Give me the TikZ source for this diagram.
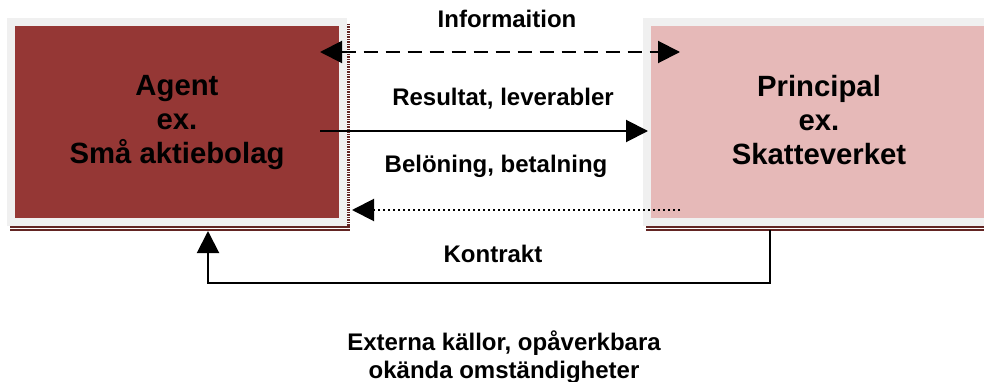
\documentclass[tikz,border=0pt]{standalone}
\usepackage{fontspec}
\setmainfont{Liberation Sans}
\usetikzlibrary{arrows.meta}
\definecolor{agentred}{HTML}{953735}
\definecolor{princpink}{HTML}{E6B9B8}
\definecolor{boxgray}{HTML}{F0F0F0}
\definecolor{shadowred}{HTML}{632523}
\begin{document}
\begin{tikzpicture}[x=1pt,y=-1pt,
  partybox/.style={draw=boxgray, line width=8pt, outer sep=0pt, inner sep=0pt, minimum height=200pt},
  boxtext/.style={anchor=base, align=center, inner sep=0pt, font=\bfseries\fontsize{29.3}{34}\selectfont},
  midtext/.style={anchor=base, align=center, inner sep=0pt, font=\bfseries\fontsize{24}{28}\selectfont},
  conn/.style={line width=2pt, -{Triangle[length=22pt,width=22pt]}},
  shadowline/.style={draw=shadowred, line width=1.6pt}
]
\clip (0,0) rectangle (984,382);
\fill[white] (0,0) rectangle (984,382);
% boxes
\node[partybox, fill=agentred, minimum width=332pt] (agent) at (177,122) {};
\node[partybox, fill=princpink, minimum width=344pt] (principal) at (819,122) {};
% shadow lines
\draw[shadowline] ([shift={(-333,4.8)}]agent.south east) -- ([shift={(7,4.8)}]agent.south east);
\draw[shadowline] ([shift={(-333,7.8)}]agent.south east) -- ([shift={(7,7.8)}]agent.south east);
\draw[shadowred, line width=2.6pt, dash pattern=on 1.5pt off 1pt] ([shift={(5.5,2)}]agent.north east) -- ([shift={(5.5,8.8)}]agent.south east);
\draw[shadowline] ([shift={(-1,4.8)}]principal.south west) -- ([shift={(10,4.8)}]principal.south east);
\draw[shadowline] ([shift={(-1,7.8)}]principal.south west) -- ([shift={(10,7.8)}]principal.south east);
% box texts
\node[boxtext] (agenttext) at (177,164) {Agent\\ex.\\Små aktiebolag};
\node[boxtext] (principaltext) at (819,164.5) {Principal\\ex.\\Skatteverket};
% labels
\node[midtext] (info) at (507,28) {Informaition};
\node[midtext] (result) at (503,106) {Resultat, leverabler};
\node[midtext] (reward) at (496,172) {Belöning, betalning};
\node[midtext] (contract) at (493,262) {Kontrakt};
\node[midtext] (external) at (504,378) {Externa källor, opåverkbara\\okända omständigheter};
% connectors
\draw[conn, {Triangle[length=22pt,width=22pt]}-{Triangle[length=22pt,width=22pt]}, dash pattern=on 14pt off 8pt]
  ([shift={(-23,30)}]agent.north east) -- ([shift={(33,30)}]principal.north west);
\draw[conn] ([shift={(-23,109)}]agent.north east) -- ([shift={(1,109)}]principal.north west);
\draw[conn, dash pattern=on 2pt off 3pt] ([shift={(33,188)}]principal.north west) -- ([shift={(9,188)}]agent.north east);
\draw[conn] ([shift={(-49,8)}]principal.south) -- ++(0,53) -| ([shift={(31,9)}]agent.south);
\end{tikzpicture}
\end{document}
